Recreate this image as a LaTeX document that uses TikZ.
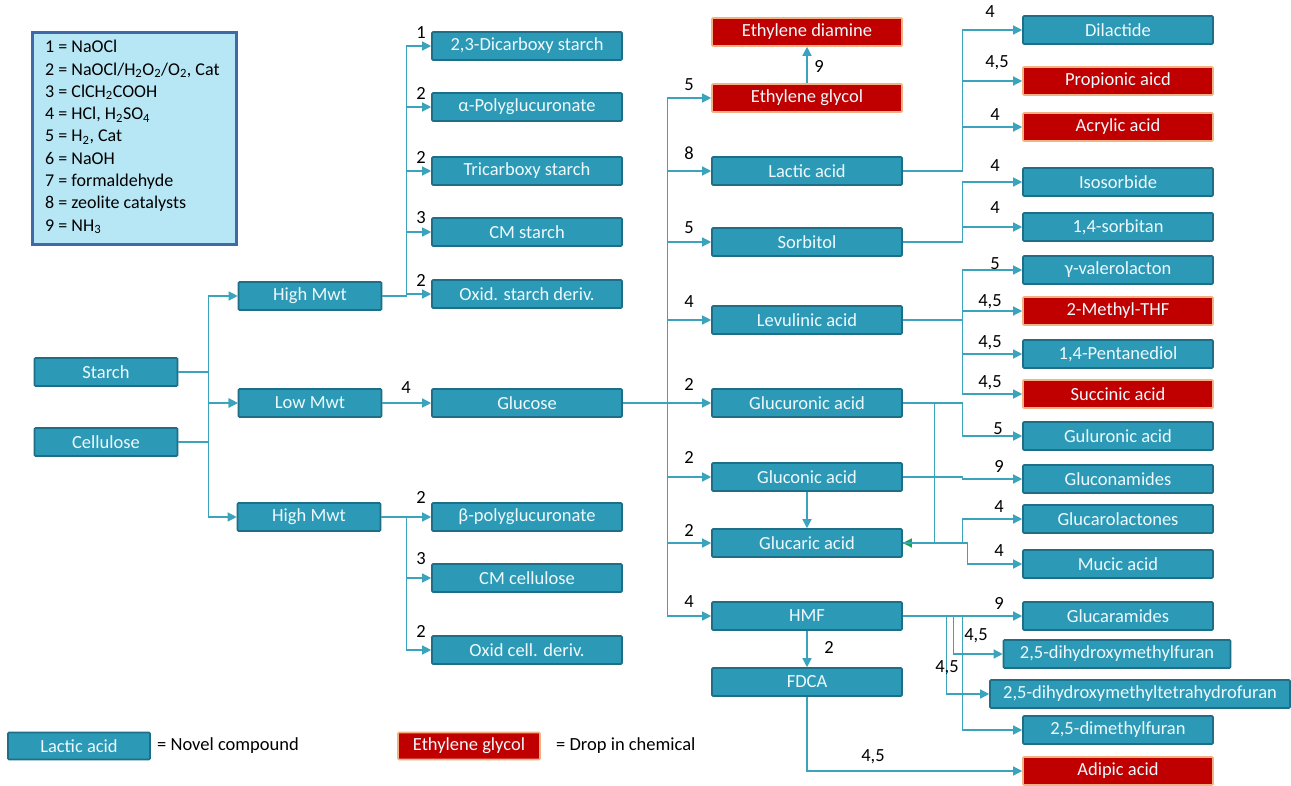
\documentclass[tikz,border=0pt]{standalone}
\usepackage{fontspec}
\setmainfont{Carlito}
\usetikzlibrary{arrows.meta,positioning}

\definecolor{boxfill}{HTML}{2C9AB7}
\definecolor{boxline}{HTML}{1D6E86}
\definecolor{redfill}{HTML}{C00000}
\definecolor{redline}{HTML}{F4B183}
\definecolor{linec}{HTML}{3BA3BC}
\definecolor{keyfill}{HTML}{B7E7F5}
\definecolor{keyline}{HTML}{4169A8}
\definecolor{arrgreen}{HTML}{1FA05A}
\definecolor{boxtext}{HTML}{EEF9FC}

\tikzset{
  box/.style={draw=boxline, line width=1.6pt, fill=boxfill, text=boxtext,
    minimum width=190pt, minimum height=28pt, inner sep=2pt, rounded corners=1pt,
    font=\fontsize{18.5}{20}\selectfont},
  redbox/.style={box, draw=redline, fill=redfill},
  line/.style={draw=linec, line width=1.3pt},
  arr/.style={line, -{Triangle[length=9pt,width=9pt]}},
  greenarr/.style={line, -{Triangle[length=9pt,width=9pt,color=arrgreen]}},
  num/.style={font=\fontsize{18.5}{20}\selectfont, inner sep=0pt},
}

\begin{document}
\begin{tikzpicture}[x=1pt,y=-1pt]
\useasboundingbox (0,0) rectangle (1291,785);

% key of reagents
\node[draw=keyline, line width=2.5pt, fill=keyfill, minimum width=204pt, minimum height=212pt, anchor=north west] (keybox) at (31,31) {};
\node[anchor=north west, align=left, inner sep=0pt, font=\fontsize{18}{22.3}\selectfont] (keytext) at (45,40)
  {1 = NaOCl\\
   2 = NaOCl/H\textsubscript{2}O\textsubscript{2}/O\textsubscript{2}, Cat\\
   3 = ClCH\textsubscript{2}COOH\\
   4 = HCl, H\textsubscript{2}SO\textsubscript{4}\\
   5 = H\textsubscript{2}, Cat\\
   6 = NaOH\\
   7 = formaldehyde\\
   8 = zeolite catalysts\\
   9 = NH\textsubscript{3}};

% feedstocks
\node[box, minimum width=143pt] (starch) at (106,372) {Starch};
\node[box, minimum width=143pt] (cellulose) at (106,442) {Cellulose};
\node[box, minimum width=143pt] (hmwA) at (310,296) {High Mwt};
\node[box, minimum width=143pt] (lmw) at (310,403) {Low Mwt};
\node[box, minimum width=143pt] (hmwB) at (309,517) {High Mwt};

% second column
\node[box] (dicarb) at (527,46) {2,3-Dicarboxy starch};
\node[box] (apoly) at (527,107) {α-Polyglucuronate};
\node[box] (tricarb) at (527,171) {Tricarboxy starch};
\node[box] (cmstarch) at (527,232) {CM starch};
\node[box] (oxstarch) at (527,294) {Oxid. starch deriv.};
\node[box] (glucose) at (527,403) {Glucose};
\node[box] (bpoly) at (527,517) {β-polyglucuronate};
\node[box] (cmcell) at (527,578) {CM cellulose};
\node[box] (oxcell) at (527,650) {Oxid cell. deriv.};

% third column
\node[redbox] (etda) at (807,32) {Ethylene diamine};
\node[redbox] (etgly) at (807,98) {Ethylene glycol};
\node[box] (lactic) at (807,171) {Lactic acid};
\node[box] (sorbitol) at (807,242) {Sorbitol};
\node[box] (levul) at (807,320) {Levulinic acid};
\node[box] (glcur) at (807,403) {Glucuronic acid};
\node[box] (glcon) at (807,477) {Gluconic acid};
\node[box] (glcar) at (807,543) {Glucaric acid};
\node[box] (hmf) at (807,616) {HMF};
\node[box] (fdca) at (807,682) {FDCA};

% fourth column
\node[box] (dilact) at (1118,30) {Dilactide};
\node[redbox] (propion) at (1118,81) {Propionic aicd};
\node[redbox] (acryl) at (1118,127) {Acrylic acid};
\node[box] (isosorb) at (1118,182) {Isosorbide};
\node[box] (sorbitan) at (1118,227) {1,4-sorbitan};
\node[box] (gvl) at (1118,270) {γ-valerolacton};
\node[redbox] (mthf) at (1118,311) {2-Methyl-THF};
\node[box] (pentdiol) at (1118,354) {1,4-Pentanediol};
\node[redbox] (succ) at (1118,394) {Succinic acid};
\node[box] (gulur) at (1118,436) {Guluronic acid};
\node[box] (glconam) at (1118,479) {Gluconamides};
\node[box] (glclact) at (1118,519) {Glucarolactones};
\node[box] (mucic) at (1118,564) {Mucic acid};
\node[box] (glcaram) at (1118,616) {Glucaramides};
\node[box, minimum width=227pt] (dhmf) at (1117,654) {2,5-dihydroxymethylfuran};
\node[box, minimum width=300pt] (dhmthf) at (1140,694) {2,5-dihydroxymethyltetrahydrofuran};
\node[box] (dmf) at (1118,730) {2,5-dimethylfuran};
\node[redbox] (adipic) at (1118,771) {Adipic acid};

% connectors
\draw[arr] (starch.east) -- ++(30,0) |- (hmwA.west);
\draw[arr] (starch.east) -- ++(30,0) |- (lmw.west);
\draw[arr] (cellulose.east) -- ++(30,0) |- (lmw.west);
\draw[arr] (cellulose.east) -- ++(30,0) |- (hmwB.west);

\draw[arr] (hmwA.east) -- ++(24,0) |- (dicarb.west);
\draw[arr] (hmwA.east) -- ++(24,0) |- (apoly.west);
\draw[arr] (hmwA.east) -- ++(24,0) |- (tricarb.west);
\draw[arr] (hmwA.east) -- ++(24,0) |- (cmstarch.west);
\draw[arr] (hmwA.east) -- ++(24,0) |- (oxstarch.west);
\draw[arr] (lmw.east) -- (glucose.west);
\draw[arr] (hmwB.east) -- ++(25,0) |- (bpoly.west);
\draw[arr] (hmwB.east) -- ++(25,0) |- (cmcell.west);
\draw[arr] (hmwB.east) -- ++(25,0) |- (oxcell.west);

\draw[arr] (glucose.east) -- ++(45,0) |- (etgly.west);
\draw[arr] (glucose.east) -- ++(45,0) |- (lactic.west);
\draw[arr] (glucose.east) -- ++(45,0) |- (sorbitol.west);
\draw[arr] (glucose.east) -- ++(45,0) |- (levul.west);
\draw[arr] (glucose.east) -- (glcur.west);
\draw[arr] (glucose.east) -- ++(45,0) |- (glcon.west);
\draw[arr] (glucose.east) -- ++(45,0) |- (glcar.west);
\draw[arr] (glucose.east) -- ++(45,0) |- (hmf.west);

\draw[arr] (etgly.north) -- (etda.south);
\draw[arr] (glcon.south) -- (glcar.north);
\draw[arr] (hmf.south) -- (fdca.north);
\draw[arr] (fdca.south) |- (adipic.west);

\draw[arr] (lactic.east) -- ++(60,0) |- (dilact.west);
\draw[arr] (lactic.east) -- ++(60,0) |- (propion.west);
\draw[arr] (lactic.east) -- ++(60,0) |- (acryl.west);
\draw[arr] (sorbitol.east) -- ++(60,0) |- (isosorb.west);
\draw[arr] (sorbitol.east) -- ++(60,0) |- (sorbitan.west);
\draw[arr] (levul.east) -- ++(60,0) |- (gvl.west);
\draw[arr] (levul.east) -- ++(60,0) |- (mthf.west);
\draw[arr] (levul.east) -- ++(60,0) |- (pentdiol.west);
\draw[arr] (levul.east) -- ++(60,0) |- (succ.west);
\draw[arr] (glcur.east) -- ++(60,0) |- (gulur.west);
\draw[greenarr] (glcur.east) -- ++(32,0) |- (glcar.east);
\draw[arr] (glcon.east) -- ++(60,0) |- (glconam.west);
\draw[arr] (glcar.east) -- ++(60,0) |- (glclact.west);
\draw[arr] (glcar.east) -- ++(65,0) |- (mucic.west);
\draw[arr] (hmf.east) -- (glcaram.west);
\draw[arr] (hmf.east) -- ++(51,0) |- (dhmf.west);
\draw[arr] (hmf.east) -- ++(44,0) |- (dhmthf.west);
\draw[arr] (hmf.east) -- ++(60,0) |- (dmf.west);

% reagent numbers
\node[num] (n1) at (421,33) {1};
\node[num] (n2) at (421,93) {2};
\node[num] (n3) at (421,157) {2};
\node[num] (n4) at (421,218) {3};
\node[num] (n5) at (421,280) {2};
\node[num] (n6) at (406,388) {4};
\node[num] (n7) at (421,497) {2};
\node[num] (n8) at (421,559) {3};
\node[num] (n9) at (421,631) {2};

\node[num] (n10) at (689,85) {5};
\node[num] (n11) at (689,153) {8};
\node[num] (n12) at (689,228) {5};
\node[num] (n13) at (689,302) {4};
\node[num] (n14) at (689,384) {2};
\node[num] (n15) at (689,457) {2};
\node[num] (n16) at (689,530) {2};
\node[num] (n17) at (689,602) {4};
\node[num] (n18) at (819,66) {9};
\node[num] (n19) at (829,647) {2};
\node[num] (n20) at (873,757) {4,5};

\node[num] (n21) at (990,12) {4};
\node[num] (n22) at (997,63) {4,5};
\node[num] (n23) at (995,115) {4};
\node[num] (n24) at (995,166) {4};
\node[num] (n25) at (995,208) {4};
\node[num] (n26) at (995,264) {5};
\node[num] (n27) at (990,302) {4,5};
\node[num] (n28) at (990,343) {4,5};
\node[num] (n29) at (990,383) {4,5};
\node[num] (n30) at (998,429) {5};
\node[num] (n31) at (999,466) {9};
\node[num] (n32) at (999,507) {4};
\node[num] (n33) at (999,551) {4};
\node[num] (n34) at (999,603) {9};
\node[num] (n35) at (976,636) {4,5};
\node[num] (n36) at (947,668) {4,5};

% legend
\node[box, minimum width=142pt, minimum height=27pt] (keynovel) at (79,746) {Lactic acid};
\node[num, anchor=west] (keynoveltxt) at (157,746) {= Novel compound};
\node[redbox, minimum width=142pt, minimum height=27pt] (keydrop) at (469,746) {Ethylene glycol};
\node[num, anchor=west] (keydroptxt) at (556,746) {= Drop in chemical};
\end{tikzpicture}
\end{document}
